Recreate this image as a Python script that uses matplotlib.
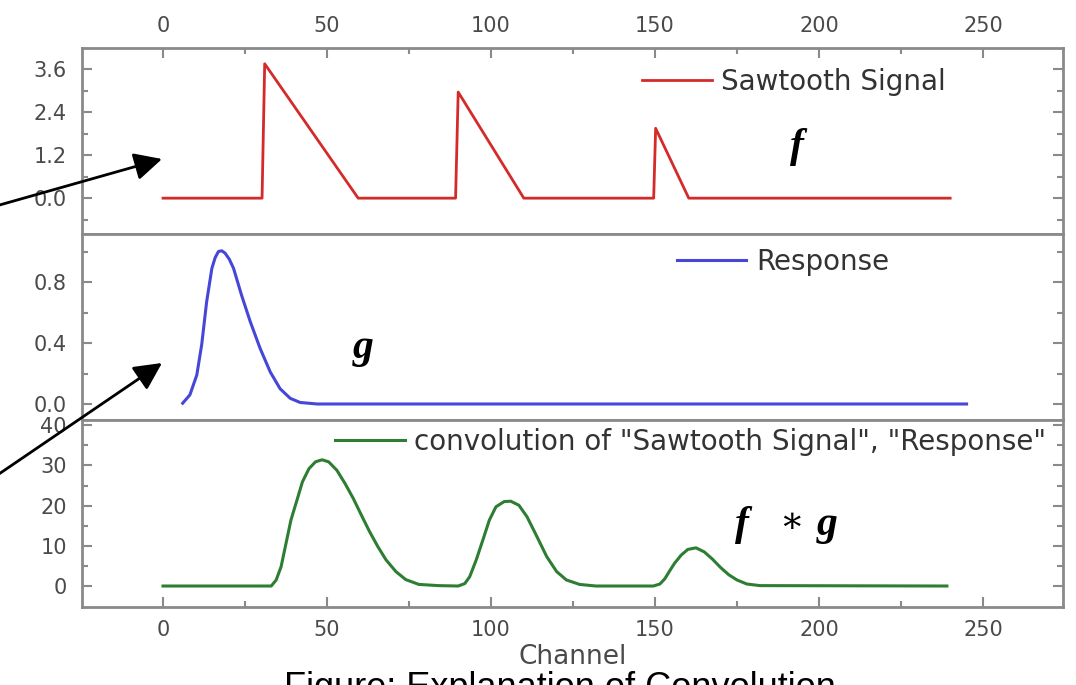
import matplotlib.pyplot as plt
from matplotlib.patches import FancyArrowPatch
from matplotlib.ticker import MultipleLocator, FixedLocator, FormatStrFormatter

# sawtooth signal f, break points
saw_x = [0, 30.2, 31, 59.5, 89.2, 90, 110, 149.6, 150.2, 160.3, 240]
saw_y = [0, 0, 3.75, 0, 0, 2.96, 0, 0, 1.95, 0, 0]

# detector response g
resp_x = [6, 8.2, 10.3, 11.8, 13.3, 14.9, 15.9, 16.9, 17.9, 18.9, 20.2, 21.5, 24, 26.6,
          29.6, 32.7, 35.7, 38.8, 41.8, 47, 245]
resp_y = [0.005, 0.06, 0.19, 0.39, 0.67, 0.89, 0.96, 1.0, 1.005, 0.99, 0.95, 0.89, 0.71, 0.54,
          0.365, 0.21, 0.10, 0.037, 0.01, 0, 0]

# convolution f*g
conv_x = [0, 33, 34.5, 36, 37.5, 39, 41, 42.5, 44.5, 46.5, 48.5, 50.5, 53, 55.5,
          58, 60.5, 63, 65.5, 68, 71, 74, 78, 84, 90, 92, 93.5, 95.5, 97.5,
          99.5, 101.5, 104, 106, 108.5, 111, 114, 117, 120, 123, 127, 132,
          149.5, 151.5, 153, 154.5, 156, 158, 160, 162.5, 165, 167.5, 170, 172.5,
          175, 178, 182, 239]
conv_y = [0, 0, 1.5, 4.8, 10.6, 16.4, 21.8, 25.9, 29.2, 30.9, 31.4, 30.9, 28.8, 25.5,
          21.8, 17.6, 13.5, 9.8, 6.5, 3.6, 1.6, 0.4, 0.1, 0, 0.6, 2.3, 6.5, 11.4,
          16.4, 19.7, 21.0, 21.1, 20.1, 17.2, 12.3, 7.3, 3.6, 1.5, 0.4, 0,
          0, 0.5, 1.8, 3.8, 5.7, 7.7, 9.1, 9.5, 8.5, 6.7, 4.6, 2.8,
          1.5, 0.5, 0.1, 0]

x_ticks = [0, 50, 100, 150, 200, 250]
saw_label = 'Sawtooth Signal'
resp_label = 'Response'
conv_label = 'convolution of "Sawtooth Signal", "Response"'

W, H = 1076, 685
GREY = '#8a8a8a'
TXT = '#4a4a4a'
MATH = ['Liberation Serif', 'DejaVu Serif', 'DejaVu Sans']


def box(l, t, r, b):
    return [l / W, 1 - b / H, (r - l) / W, (b - t) / H]


def style(ax):
    for sp in ax.spines.values():
        sp.set_color(GREY)
        sp.set_linewidth(2.0)
    ax.tick_params(which='both', direction='in', color=GREY, width=1.5,
                   labelcolor=TXT, labelsize=15, left=True, right=True)
    ax.tick_params(which='major', length=7)
    ax.tick_params(which='minor', length=4)
    ax.tick_params(axis='y', pad=11)
    ax.tick_params(axis='x', pad=9)
    ax.set_xlim(-24.7, 274.4)
    ax.xaxis.set_major_locator(FixedLocator(x_ticks))
    ax.xaxis.set_minor_locator(MultipleLocator(25))


def legend(ax, x, y):
    ax.legend(loc='center left', bbox_to_anchor=(x, y), frameon=False, fontsize=20,
              handlelength=2.5, handletextpad=0.35, borderpad=0, borderaxespad=0,
              labelcolor='#333333')


fig = plt.figure(figsize=(W / 100, H / 100), dpi=100)
ax_f = fig.add_axes(box(82, 48, 1063, 234))
ax_g = fig.add_axes(box(82, 234, 1063, 420))
ax_c = fig.add_axes(box(82, 420, 1063, 607))
for ax in (ax_f, ax_g, ax_c):
    style(ax)

# top: sawtooth
ax_f.plot(saw_x, saw_y, color='#d42a2a', lw=2.0, label=saw_label)
ax_f.set_ylim(-1.0, 4.19)
ax_f.yaxis.set_major_locator(FixedLocator([0, 1.2, 2.4, 3.6]))
ax_f.yaxis.set_minor_locator(FixedLocator([-0.6, 0.6, 1.8, 3.0]))
ax_f.yaxis.set_major_formatter(FormatStrFormatter('%.1f'))
ax_f.tick_params(axis='x', which='both', top=True, bottom=False,
                 labeltop=True, labelbottom=False)
legend(ax_f, 0.571, 0.817)
ax_f.text(193.3, 1.42, 'f', ha='center', va='center', fontsize=30,
          family=MATH, style='italic', weight='bold')

# middle: response
ax_g.plot(resp_x, resp_y, color='#4646d8', lw=2.2, label=resp_label)
ax_g.set_ylim(-0.105, 1.115)
ax_g.yaxis.set_major_locator(FixedLocator([0, 0.4, 0.8]))
ax_g.yaxis.set_minor_locator(FixedLocator([0.2, 0.6, 1.0]))
ax_g.yaxis.set_major_formatter(FormatStrFormatter('%.1f'))
ax_g.tick_params(axis='x', which='both', top=False, bottom=False,
                 labeltop=False, labelbottom=False)
legend(ax_g, 0.6065, 0.849)
ax_g.text(61, 0.367, 'g', ha='center', va='center', fontsize=30,
          family=MATH, style='italic', weight='bold')

# bottom: convolution
ax_c.plot(conv_x, conv_y, color='#2d7d32', lw=2.2, label=conv_label)
ax_c.set_ylim(-5.22, 41.3)
ax_c.yaxis.set_major_locator(FixedLocator([0, 10, 20, 30, 40]))
ax_c.yaxis.set_minor_locator(FixedLocator([5, 15, 25, 35]))
ax_c.tick_params(axis='x', which='both', top=False, bottom=True,
                 labeltop=False, labelbottom=True)
legend(ax_c, 0.258, 0.882)
ax_c.set_xlabel('Channel', fontsize=19, color=TXT, labelpad=3)
ax_c.text(176.5, 15.2, 'f', ha='center', va='center', fontsize=30,
          family=MATH, style='italic', weight='bold')
ax_c.text(191.5, 15.6, '∗', ha='center', va='center', fontsize=26, family=MATH)
ax_c.text(202.5, 15.2, 'g', ha='center', va='center', fontsize=30,
          family=MATH, style='italic', weight='bold')

# pointer arrows from the left margin
for (x0, y0), (x1, y1) in [((-4, 206), (162, 159)), ((-4, 476), (162, 363))]:
    fig.add_artist(FancyArrowPatch((x0 / W, 1 - y0 / H), (x1 / W, 1 - y1 / H),
                                   transform=fig.transFigure,
                                   arrowstyle='-|>,head_length=0.7,head_width=0.35',
                                   mutation_scale=24, lw=2, color='black',
                                   shrinkA=0, shrinkB=0))

# caption sits partly below the bottom edge
fig.text(560 / W, 1 - 698 / H, 'Figure: Explanation of Convolution', ha='center',
         va='baseline', fontsize=26, family='Liberation Sans', color='black')

fig.savefig('out.png', dpi=100, facecolor='white')
